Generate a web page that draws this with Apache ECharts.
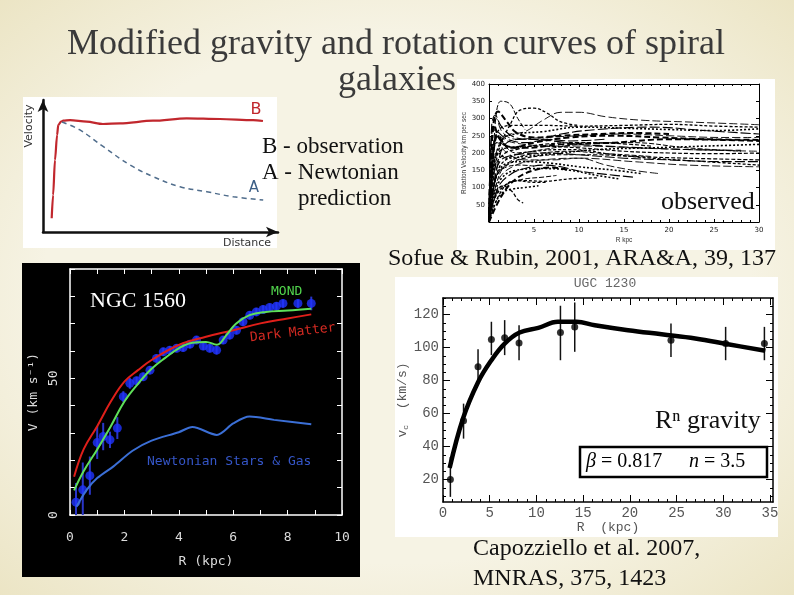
<!DOCTYPE html>
<html>
<head>
<meta charset="utf-8">
<title>Modified gravity and rotation curves of spiral galaxies</title>
<script src="https://cdn.jsdelivr.net/npm/echarts@6.0.0/dist/echarts.min.js"></script>
<style>
  html, body { margin: 0; padding: 0; }
  #main {
    width: 794px; height: 595px;
    background: radial-gradient(ellipse 72% 72% at 50% 50%, #f6f3e4 62%, #ebe4c3 100%);
  }
</style>
</head>
<body>
<div id="main"></div>
<script>
// sketch panel (arbitrary units 0-100): B observation, A newtonian
var sketchObsX = [3.7, 4.3, 5.1, 6.0, 6.5, 7.7, 8.6, 11.5, 18.6, 25.5, 32.8, 46.8, 61.1, 75.3, 89.4, 93.6];
var sketchObsY = [10.4, 28, 54.5, 73.5, 81.1, 83.7, 84.3, 84.8, 83.6, 81.8, 82.3, 84.3, 86.1, 85.6, 84.8, 84.1];
var sketchNewtX = [8.1, 15.7, 25.7, 37.0, 46.9, 58.3, 69.7, 81.0, 93.7];
var sketchNewtY = [83.3, 77.3, 64.6, 50.8, 41.9, 34.3, 30.5, 26.7, 24.2];

// Sofue & Rubin curves, [R kpc, V km/s]
var sofueCurves = [
  [[0,0],[0.4,180],[1.3,350],[2.2,345],[3.2,300],[4,268]],
  [[0,20],[1,200],[2.5,290],[3.5,325],[5,330],[6.5,315],[8,290],[10,280]],
  [[0,0],[0.8,200],[2,250],[4,262],[6,295],[8,318],[10,318],[13,305],[17,295],[22,290],[30,282]],
  [[0,0],[0.5,150],[1.5,240],[3,255],[6,262],[10,275],[15,272],[20,268],[25,265],[30,270]],
  [[0,0],[0.3,120],[1,260],[2,240],[4,230],[8,255],[12,268],[18,275],[24,265],[30,255]],
  [[0,0],[0.5,200],[1,250],[2,220],[4,215],[8,225],[14,230],[20,240],[26,238],[30,235]],
  [[0,0],[0.6,180],[2,215],[5,220],[10,215],[15,205],[20,200],[25,198],[30,200]],
  [[0,0],[0.4,220],[1,230],[3,200],[6,210],[10,225],[16,230],[22,215],[28,205]],
  [[0,0],[1,150],[2.5,190],[5,205],[9,210],[14,195],[18,185],[24,175],[30,165]],
  [[0,0],[1,120],[3,165],[6,180],[10,185],[16,175],[22,165],[30,160]],
  [[0,0],[0.8,130],[2,170],[4,175],[7,170],[10,160],[14,150],[17,140]],
  [[0,0],[1,100],[2.5,140],[4,155],[6,165],[8,160],[10,148],[13,138],[16,130]],
  [[0,0],[1.5,80],[3,125],[5,150],[7,158],[9,150]],
  [[0,0],[0.6,70],[1.5,105],[2.5,90],[3.2,65],[3.8,55]],
  [[0,0],[1,90],[2.5,115],[4,125],[6,130],[7.5,135]],
  [[0,0],[0.5,60],[1.5,100],[3,120],[5,115],[6.5,115]],
  [[0,0],[0.3,250],[0.8,300],[1.5,260],[3,240],[6,245],[10,250],[15,255],[20,250],[26,245],[30,245]],
  [[0,0],[0.4,170],[1,200],[2,185],[4,190],[8,200],[12,210],[18,215],[24,220],[30,225]],
  [[0,0],[0.5,100],[1.2,175],[3,195],[6,200],[10,195],[15,185],[20,180],[26,175],[30,175]],
  [[0,0],[0.2,150],[0.6,280],[1.2,240],[2.5,215],[5,230],[9,245],[14,250],[19,245],[24,240],[30,238]],
  [[0,0],[0.7,160],[1.8,200],[3,210],[6,225],[10,230],[14,228],[18,220]],
  [[0,0],[1.2,140],[3,185],[6,200],[9,205],[12,200],[15,195],[18,190]],
  [[0,0],[0.5,190],[1.2,270],[3,280],[6,280],[10,278],[15,280],[20,283],[25,278],[30,275]],
  [[0,0],[0.3,200],[0.9,230],[2,200],[4,180],[7,180],[10,185],[13,165],[16,150],[19,140]],
  [[0,0],[0.6,80],[1.5,130],[3,150],[6,155],[9,150],[12,135],[14.5,125]],
  [[0,0],[1,170],[2,230],[4,240],[7,235],[10,225],[13,220],[17,215],[22,210],[28,208]],
  [[0,0],[0.4,260],[1,320],[2,290],[3,260],[5,245],[8,250],[12,255],[16,258],[20,255]],
  [[0,0],[0.8,130],[2,165],[4,185],[8,195],[12,195],[16,190],[22,185],[30,180]],
  [[0,0],[0.3,90],[1,140],[2,160],[3.5,165],[5,162]],
  [[0,0],[2,110],[4,120],[6,118],[9,125],[12,128]],
  [[0,0],[0.5,230],[1,250],[2,235],[4,225],[7,220],[11,220],[16,215],[22,210],[30,205]],
  [[0,0],[0.6,50],[1.5,85],[2.5,95],[4,100],[5.5,105]],
  [[0,30],[0.3,280],[0.7,310],[1.3,280],[2.5,250],[4,240],[6,240],[9,235],[13,240]]
];

// NGC 1560
var dmR = [0.15, 0.5, 1, 1.5, 2, 2.5, 3, 4, 5, 6, 7, 8, 8.87];
var dmV = [14, 24, 32.5, 41.5, 48.8, 53, 56.7, 62.2, 65.2, 67.6, 70.1, 71.9, 73.4];
var mondR = [0.15, 0.5, 1, 1.5, 2, 2.5, 3, 3.5, 4, 4.5, 5, 5.4, 5.75, 6.1, 6.6, 7.2, 8, 8.87];
var mondV = [9, 16, 24, 32.5, 41.5, 48, 53.5, 57.5, 61, 63, 63.3, 62.3, 65.8, 70, 73.1, 74.3, 74.8, 75.5];
var newtR = [0.24, 0.6, 1, 1.6, 2.3, 3, 4, 4.5, 5.4, 6, 6.6, 7.5, 8.87];
var newtV = [3, 9, 13.5, 17.8, 23.5, 27.2, 30.3, 32.2, 29.3, 33.5, 36, 34.8, 33.2];
var ngcR = [0.22, 0.47, 0.73, 1.0, 1.22, 1.47, 1.74, 1.96, 2.2, 2.45, 2.69, 2.94, 3.18, 3.43, 3.67, 3.92, 4.16, 4.41, 4.65, 4.9, 5.14, 5.39, 5.63, 5.87, 6.12, 6.36, 6.61, 6.85, 7.1, 7.34, 7.59, 7.83, 8.38, 8.87];
var ngcV = [4.7, 9.2, 14.4, 26.5, 28.7, 27.5, 31.8, 43.3, 48.2, 49.1, 50.6, 53, 57.3, 59.7, 60.3, 61, 61.3, 62.5, 64, 61.8, 61, 60.3, 64, 65.8, 67.6, 70.7, 73.1, 74.3, 75.2, 75.9, 76.4, 77.4, 77.4, 77.4];
var ngcErr = [7, 10, 7, 6, 5, 3, 4, 2, 2, 1.5, 1.5, 1.5, 1.5, 1.5, 1.5, 1.5, 1.5, 1.5, 1.5, 1.5, 1.5, 1.5, 1.5, 1.5, 1.5, 1.5, 1.5, 1.5, 1.5, 1.5, 1.5, 1.5, 1.5, 2.5];

// UGC 1230
var ugcFitR = [0.71, 2.14, 3.75, 5.18, 6.6, 8.2, 10.2, 12.3, 14.3, 16.25, 19.8, 23.4, 27, 30.5, 34.5];
var ugcFitV = [27, 57, 79, 92.3, 102.4, 109.1, 111.9, 115.6, 115.6, 113.5, 110.5, 108, 105.5, 102, 98];
var ugcR = [0.79, 2.2, 3.75, 5.18, 6.6, 8.14, 12.57, 14.1, 24.4, 30.25, 34.4];
var ugcV = [20, 55.6, 88.3, 104.8, 105.9, 102.8, 109.1, 112.5, 104.4, 102.4, 102.4];
var ugcLo = [9.5, 44.8, 78.2, 95.4, 95.4, 92.3, 92.3, 97.4, 94.3, 92.3, 92.3];
var ugcHi = [33.7, 66, 99, 115.6, 116.6, 113.5, 125.3, 127.3, 114.5, 112.5, 112.5];
var ugcXLabels = [0, 5, 10, 15, 20, 25, 30, 35];
var ugcYLabels = [20, 40, 60, 80, 100, 120];

var serif = "'Liberation Serif', 'Times New Roman', serif";
var mono = "'DejaVu Sans Mono', monospace";
var cour = "'Liberation Mono', 'Courier New', monospace";

function zip(a, b) { return a.map(function (v, i) { return [v, b[i]]; }); }
function range(a, b, s) { var r = []; for (var v = a; v <= b + 1e-9; v += s) r.push(v); return r; }

function errorBars(xi, yi, xs, lo, hi, color, w) {
  return {
    type: 'custom', xAxisIndex: xi, yAxisIndex: yi, silent: true, clip: true, z: 3,
    data: xs.map(function (x, i) { return [x, lo[i], hi[i]]; }),
    encode: { x: 0, y: [1, 2] },
    renderItem: function (params, api) {
      var a = api.coord([api.value(0), api.value(1)]);
      var b = api.coord([api.value(0), api.value(2)]);
      return { type: 'line', shape: { x1: a[0], y1: a[1], x2: b[0], y2: b[1] }, style: { stroke: color, lineWidth: w } };
    }
  };
}

function tickAxis(grid, pos, min, max, ticks, len, color, line) {
  return {
    gridIndex: grid, type: 'value', position: pos, min: min, max: max,
    axisLine: { show: !!line, onZero: false, lineStyle: { color: color, width: line || 1 } },
    axisLabel: { show: false }, splitLine: { show: false },
    axisTick: { show: true, inside: true, length: len, customValues: ticks, lineStyle: { color: color, width: 1 } }
  };
}

function txt(text, x, y, font, color, extra) {
  var el = {
    type: 'text', x: x, y: y, z: 100, silent: true,
    style: { text: text, font: font, fill: color, textAlign: 'left', align: 'left', textVerticalAlign: 'middle', verticalAlign: 'middle' }
  };
  if (extra) {
    for (var k in extra) {
      if (k === 'style') { for (var s in extra.style) el.style[s] = extra.style[s]; }
      else el[k] = extra[k];
    }
  }
  return el;
}

var chart = echarts.init(document.getElementById('main'), null, { renderer: 'canvas' });

var series = [
  // sketch
  { type: 'line', xAxisIndex: 0, yAxisIndex: 0, data: zip(sketchObsX, sketchObsY), smooth: 0.3, smoothMonotone: 'x',
    showSymbol: false, lineStyle: { color: '#c1272d', width: 2.2 } },
  { type: 'line', xAxisIndex: 0, yAxisIndex: 0, data: zip(sketchNewtX, sketchNewtY), smooth: 0.4,
    showSymbol: false, lineStyle: { color: '#506d8c', width: 1.5, type: [5, 4] } }
];

var dashes = [[5, 2], [3, 2], [8, 3], [2, 2], [10, 3], [6, 3], [4, 2]];
var widths = [1, 1.3, 0.9, 1.6, 1.1, 2, 1.2];
sofueCurves.forEach(function (c, i) {
  series.push({
    type: 'line', xAxisIndex: 1, yAxisIndex: 1, data: c, smooth: 0.4, showSymbol: false, silent: true, clip: true,
    lineStyle: { color: '#000', width: widths[i % widths.length], type: dashes[i % dashes.length] }
  });
});

series.push(
  { type: 'line', xAxisIndex: 3, yAxisIndex: 3, data: zip(newtR, newtV), smooth: 0.3, showSymbol: false, z: 4,
    lineStyle: { color: '#3b6fd6', width: 2 } },
  errorBars(3, 3, ngcR, ngcV.map(function (v, i) { return v - ngcErr[i]; }), ngcV.map(function (v, i) { return v + ngcErr[i]; }), '#2a35c8', 2),
  { type: 'scatter', xAxisIndex: 3, yAxisIndex: 3, data: zip(ngcR, ngcV), symbol: 'circle', symbolSize: 9, z: 3,
    itemStyle: { color: '#1f33ff' } },
  { type: 'line', xAxisIndex: 3, yAxisIndex: 3, data: zip(dmR, dmV), smooth: 0.4, showSymbol: false, z: 5,
    lineStyle: { color: '#e01f1a', width: 2 } },
  { type: 'line', xAxisIndex: 3, yAxisIndex: 3, data: zip(mondR, mondV), smooth: 0.4, showSymbol: false, z: 5,
    lineStyle: { color: '#5fe05a', width: 2 } },

  errorBars(5, 5, ugcR, ugcLo, ugcHi, '#111', 1.5),
  { type: 'scatter', xAxisIndex: 5, yAxisIndex: 5, data: zip(ugcR, ugcV), symbol: 'circle', symbolSize: 7, z: 3,
    itemStyle: { color: '#000' } },
  { type: 'line', xAxisIndex: 5, yAxisIndex: 5, data: zip(ugcFitR, ugcFitV), smooth: 0.4, showSymbol: false, z: 4,
    lineStyle: { color: '#000', width: 4.5 } }
);

var ngcLabel = { color: '#dcdcdc', fontFamily: mono, fontSize: 13 };

var option = {
  animation: false,
  grid: [
    { left: 43, top: 100, width: 235, height: 132 },
    { left: 489, top: 84, width: 270, height: 138 },
    { left: 70, top: 269, width: 272, height: 246 },
    { left: 443, top: 298, width: 330, height: 204 }
  ],
  xAxis: [
    { gridIndex: 0, type: 'value', min: 0, max: 100,
      axisLine: { onZero: false, symbol: ['none', 'arrow'], symbolSize: [8, 12], lineStyle: { color: '#111', width: 2.5 } },
      axisTick: { show: false }, axisLabel: { show: false }, splitLine: { show: false } },
    { gridIndex: 1, type: 'value', min: 0, max: 30, interval: 5, position: 'bottom',
      axisLine: { onZero: false, lineStyle: { color: '#000', width: 1 } },
      axisTick: { inside: true, length: 3, lineStyle: { color: '#000' } },
      minorTick: { show: true, splitNumber: 5, length: 2, lineStyle: { color: '#000' } },
      axisLabel: { formatter: function (v) { return v === 0 ? '' : v; }, fontSize: 7, color: '#222', margin: 5, fontFamily: 'DejaVu Sans' },
      splitLine: { show: false },
      name: 'R kpc', nameLocation: 'middle', nameGap: 15, nameTextStyle: { fontSize: 6.5, color: '#333' } },
    { gridIndex: 1, type: 'value', min: 0, max: 30, interval: 5, position: 'top',
      axisLine: { onZero: false, lineStyle: { color: '#000', width: 1 } },
      axisTick: { inside: true, length: 3, lineStyle: { color: '#000' } },
      minorTick: { show: true, splitNumber: 5, length: 2, lineStyle: { color: '#000' } },
      axisLabel: { show: false }, splitLine: { show: false } },
    { gridIndex: 2, type: 'value', min: 0, max: 10, interval: 1, position: 'bottom',
      axisLine: { onZero: false, lineStyle: { color: '#fff', width: 1.5 } },
      axisTick: { inside: true, length: 5, lineStyle: { color: '#fff' } },
      axisLabel: { formatter: function (v) { return v % 2 === 0 ? v : ''; }, margin: 16, color: ngcLabel.color, fontFamily: mono, fontSize: 13 },
      splitLine: { show: false },
      name: 'R (kpc)', nameLocation: 'middle', nameGap: 40, nameTextStyle: ngcLabel },
    { gridIndex: 2, type: 'value', min: 0, max: 10, interval: 1, position: 'top',
      axisLine: { onZero: false, lineStyle: { color: '#fff', width: 1.5 } },
      axisTick: { inside: true, length: 5, lineStyle: { color: '#fff' } },
      axisLabel: { show: false }, splitLine: { show: false } },
    { gridIndex: 3, type: 'value', min: 0, max: 35.32, position: 'bottom',
      axisLine: { onZero: false, lineStyle: { color: '#000', width: 1.5 } },
      axisTick: { inside: true, length: 3, customValues: range(0, 35, 1), lineStyle: { color: '#000' } },
      axisLabel: { customValues: ugcXLabels, margin: 4, color: '#555', fontFamily: cour, fontSize: 14 },
      splitLine: { show: false },
      name: 'R  (kpc)', nameLocation: 'middle', nameGap: 16, nameTextStyle: { color: '#555', fontFamily: cour, fontSize: 13 } },
    tickAxis(3, 'top', 0, 35.32, range(0, 35, 1), 3, '#000', 1.5),
    tickAxis(3, 'bottom', 0, 35.32, range(0, 35, 5), 7, '#000'),
    tickAxis(3, 'top', 0, 35.32, range(0, 35, 5), 7, '#000')
  ],
  yAxis: [
    { gridIndex: 0, type: 'value', min: 0, max: 100,
      axisLine: { onZero: false, symbol: ['none', 'arrow'], symbolSize: [8, 12], lineStyle: { color: '#111', width: 2.5 } },
      axisTick: { show: false }, axisLabel: { show: false }, splitLine: { show: false } },
    { gridIndex: 1, type: 'value', min: 0, max: 400, interval: 50, position: 'left',
      axisLine: { onZero: false, lineStyle: { color: '#000', width: 1 } },
      axisTick: { inside: true, length: 3, lineStyle: { color: '#000' } },
      axisLabel: { formatter: function (v) { return v === 0 ? '' : v; }, fontSize: 7, color: '#222', margin: 4, fontFamily: 'DejaVu Sans' },
      splitLine: { show: false },
      name: 'Rotation Velocity km per sec', nameLocation: 'middle', nameGap: 19, nameTextStyle: { fontSize: 6.5, color: '#333' } },
    { gridIndex: 1, type: 'value', min: 0, max: 400, interval: 50, position: 'right',
      axisLine: { onZero: false, lineStyle: { color: '#000', width: 1 } },
      axisTick: { inside: true, length: 3, lineStyle: { color: '#000' } },
      axisLabel: { show: false }, splitLine: { show: false } },
    { gridIndex: 2, type: 'value', min: 0, max: 90, interval: 10, position: 'left',
      axisLine: { onZero: false, lineStyle: { color: '#fff', width: 1.5 } },
      axisTick: { inside: true, length: 5, lineStyle: { color: '#fff' } },
      axisLabel: { formatter: function (v) { return v % 50 === 0 ? v : ''; }, rotate: 90, margin: 10, color: ngcLabel.color, fontFamily: mono, fontSize: 13 },
      splitLine: { show: false },
      name: 'V (km s⁻¹)', nameLocation: 'middle', nameGap: 30, nameTextStyle: ngcLabel },
    { gridIndex: 2, type: 'value', min: 0, max: 90, interval: 10, position: 'right',
      axisLine: { onZero: false, lineStyle: { color: '#fff', width: 1.5 } },
      axisTick: { inside: true, length: 5, lineStyle: { color: '#fff' } },
      axisLabel: { show: false }, splitLine: { show: false } },
    { gridIndex: 3, type: 'value', min: 6.4, max: 130, position: 'left',
      axisLine: { onZero: false, lineStyle: { color: '#000', width: 1.5 } },
      axisTick: { inside: true, length: 3, customValues: range(10, 130, 5), lineStyle: { color: '#000' } },
      axisLabel: { customValues: ugcYLabels, margin: 4, color: '#555', fontFamily: cour, fontSize: 14 },
      splitLine: { show: false },
      name: '{v|v}{c|c}  (km/s)', nameLocation: 'middle', nameGap: 33,
      nameTextStyle: { color: '#555', fontFamily: cour, fontSize: 13,
        rich: { v: { fontFamily: cour, fontSize: 13, color: '#555' }, c: { fontFamily: cour, fontSize: 8, color: '#555', padding: [6, 0, 0, 0] } } } },
    tickAxis(3, 'right', 6.4, 130, range(10, 130, 5), 3, '#000', 1.5),
    tickAxis(3, 'left', 6.4, 130, ugcYLabels, 7, '#000'),
    tickAxis(3, 'right', 6.4, 130, ugcYLabels, 7, '#000')
  ],
  series: series,
  graphic: {
    elements: [
      { type: 'rect', z: -10, silent: true, shape: { x: 23, y: 97, width: 254, height: 151 }, style: { fill: '#ffffff' } },
      { type: 'rect', z: -10, silent: true, shape: { x: 457, y: 79, width: 318, height: 171 }, style: { fill: '#ffffff' } },
      { type: 'rect', z: -10, silent: true, shape: { x: 22, y: 263, width: 338, height: 314 }, style: { fill: '#000000' } },
      { type: 'rect', z: -10, silent: true, shape: { x: 395, y: 277, width: 383, height: 260 }, style: { fill: '#ffffff' } },

      txt('Modified gravity and rotation curves of spiral', 396, 45, '36px ' + serif, '#3a3a3a', { style: { textAlign: 'center', align: 'center' } }),
      txt('galaxies', 397, 81, '36px ' + serif, '#3a3a3a', { style: { textAlign: 'center', align: 'center' } }),

      txt('Velocity', 29, 126, '11px DejaVu Sans', '#333', { rotation: Math.PI / 2, style: { textAlign: 'center', align: 'center' } }),
      txt('Distance', 247, 243, '11px DejaVu Sans', '#333', { style: { textAlign: 'center', align: 'center' } }),
      txt('B', 256, 110, '16px DejaVu Sans', '#c1272d', { style: { textAlign: 'center', align: 'center' } }),
      txt('A', 254, 188, '15px DejaVu Sans', '#3d5f86', { style: { textAlign: 'center', align: 'center' } }),
      txt('B - observation', 262, 147, '23px ' + serif, '#111'),
      txt('A - Newtonian', 262, 173, '23px ' + serif, '#111'),
      txt('prediction', 298, 199, '23px ' + serif, '#111'),

      txt('observed', 661, 202, '26px ' + serif, '#111'),
      txt('Sofue & Rubin, 2001, ARA&A, 39, 137', 388, 259, '24px ' + serif, '#111'),

      txt('NGC 1560', 90, 301, '22px ' + serif, '#ffffff'),
      txt('MOND', 271, 292, '13px ' + mono, '#52d64d'),
      txt('Dark Matter', 250, 338, '13px ' + mono, '#d42a22', { rotation: 0.12 }),
      txt('Newtonian Stars & Gas', 147, 462, '13px ' + mono, '#3556c8'),

      txt('UGC 1230', 605, 284, '13px ' + cour, '#666', { style: { textAlign: 'center', align: 'center' } }),
      txt('Rⁿ gravity', 655, 421, '26px ' + serif, '#111'),
      { type: 'rect', z: 90, silent: true, shape: { x: 580, y: 447, width: 187, height: 30 }, style: { fill: '#ffffff', stroke: '#000', lineWidth: 2.5 } },
      txt('{i|β} = 0.817', 586, 462, '20px ' + serif, '#000', { style: { rich: { i: { font: 'italic 20px ' + serif, fill: '#000' } } } }),
      txt('{i|n} = 3.5', 689, 462, '20px ' + serif, '#000', { style: { rich: { i: { font: 'italic 20px ' + serif, fill: '#000' } } } }),

      txt('Capozziello et al. 2007,', 473, 549, '24px ' + serif, '#111'),
      txt('MNRAS, 375, 1423', 473, 579, '24px ' + serif, '#111')
    ]
  }
};

chart.setOption(option);
</script>
</body>
</html>
